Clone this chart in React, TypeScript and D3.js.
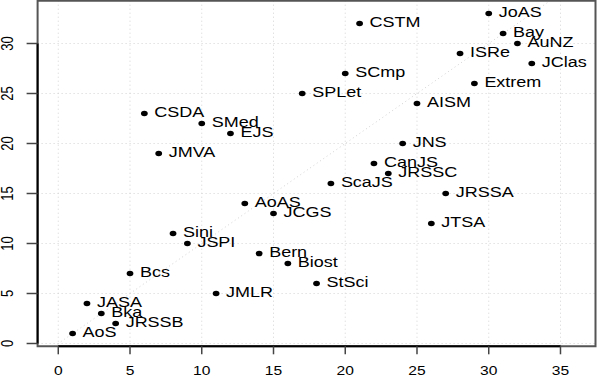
import React from 'react';
import * as d3 from 'd3';

// journal abbreviations and the two rankings
const journals = ['AoS', 'JASA', 'Bka', 'JRSSB', 'Bcs', 'CSDA', 'JMVA', 'Sini', 'JSPI', 'SMed',
    'JMLR', 'EJS', 'AoAS', 'Bern', 'JCGS', 'Biost', 'SPLet', 'StSci', 'ScaJS', 'SCmp',
    'CSTM', 'CanJS', 'JRSSC', 'JNS', 'AISM', 'JTSA', 'JRSSA', 'ISRe', 'Extrem', 'JoAS',
    'Bay', 'AuNZ', 'JClas'];
const rankX = [1, 2, 3, 4, 5, 6, 7, 8, 9, 10, 11, 12, 13, 14, 15, 16, 17, 18, 19, 20,
    21, 22, 23, 24, 25, 26, 27, 28, 29, 30, 31, 32, 33];
const rankY = [1, 4, 3, 2, 7, 23, 19, 11, 10, 22, 5, 21, 14, 9, 13, 8, 25, 6, 16, 27,
    32, 18, 17, 20, 24, 12, 15, 29, 26, 33, 31, 30, 28];
const xTicks = [0, 5, 10, 15, 20, 25, 30, 35];
const yTicks = [0, 5, 10, 15, 20, 25, 30];

const W = 598, H = 378;
const S = 1.2; // the picture is stretched horizontally
const font = 'Liberation Sans, Arial, Helvetica, sans-serif';

export default function App() {
    const x = d3.scaleLinear().domain([-1.44, 37.44]).range([37.6 / S, 595.5 / S]);
    const y = d3.scaleLinear().domain([-0.28, 34.28]).range([346.3, 0.7]);

    const [x0, x1] = x.range();
    const [y0, y1] = y.range();
    const dLo = y.domain()[0], dHi = y.domain()[1];

    return (
        <svg width={W} height={H} style={{ position: 'absolute', left: 0, top: 0 }}>
            <rect width={W} height={H} fill="#fff" />
            <g transform={`scale(${S},1)`}>
                {/* grid */}
                {xTicks.map(t => (
                    <line key={'gx' + t} x1={x(t)} x2={x(t)} y1={y1} y2={y0}
                        stroke="#d3d3d3" strokeDasharray="1,3" vectorEffect="non-scaling-stroke" />
                ))}
                {yTicks.map(t => (
                    <line key={'gy' + t} x1={x0} x2={x1} y1={y(t)} y2={y(t)}
                        stroke="#d3d3d3" strokeDasharray="1,3" vectorEffect="non-scaling-stroke" />
                ))}
                <line x1={x(dLo)} y1={y(dLo)} x2={x(dHi)} y2={y(dHi)}
                    stroke="#d3d3d3" strokeDasharray="1,3" vectorEffect="non-scaling-stroke" />

                {/* box */}
                <rect x={x0} y={y1} width={x1 - x0} height={y0 - y1} fill="none"
                    stroke="#555" strokeWidth={2} vectorEffect="non-scaling-stroke" />
                {/* axis lines */}
                <line x1={x(0)} x2={x(35)} y1={y0} y2={y0} stroke="#000" strokeWidth={2}
                    vectorEffect="non-scaling-stroke" />
                <line x1={x0} x2={x0} y1={y(0)} y2={y(30)} stroke="#000" strokeWidth={2}
                    vectorEffect="non-scaling-stroke" />

                {/* x axis */}
                {xTicks.map(t => (
                    <g key={'tx' + t}>
                        <line x1={x(t)} x2={x(t)} y1={y0} y2={y0 + 8} stroke="#444"
                            strokeWidth={1.5} vectorEffect="non-scaling-stroke" />
                        <text x={x(t)} y={375} textAnchor="middle" fontFamily={font}
                            fontSize={13} fill="#000">{t}</text>
                    </g>
                ))}
                {/* y axis */}
                {yTicks.map(t => (
                    <g key={'ty' + t}>
                        <line x1={x0 - 11 / S} x2={x0} y1={y(t)} y2={y(t)} stroke="#444"
                            strokeWidth={1.5} vectorEffect="non-scaling-stroke" />
                        <text transform={`translate(${12.5 / S},${y(t)}) rotate(-90)`}
                            textAnchor="middle" fontFamily={font} fontSize={13} fill="#000">{t}</text>
                    </g>
                ))}

                {/* points and labels */}
                {journals.map((j, i) => (
                    <g key={j}>
                        <circle cx={x(rankX[i])} cy={y(rankY[i])} r={2.8} fill="#000" />
                        <text x={x(rankX[i]) + 10 / S} y={y(rankY[i]) + 4} fontFamily={font}
                            fontSize={15} fill="#000">{j}</text>
                    </g>
                ))}
            </g>
        </svg>
    );
}
